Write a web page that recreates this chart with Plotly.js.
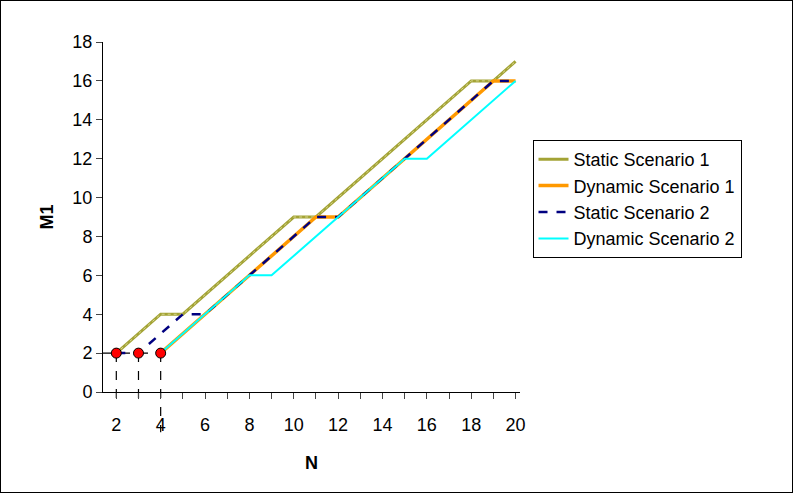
<!DOCTYPE html>
<html>
<head>
<script src="https://cdn.plot.ly/plotly-3.0.1.min.js"></script>
<style>body{margin:0} #wrap{width:793px;height:493px;box-sizing:border-box;border:1px solid #000;overflow:hidden}</style>
</head>
<body>
<div id="wrap"><div id="graph"></div></div>
<script>
//series data
const s1X = [2, 4, 5, 10, 11, 18, 19, 20]
const s1Y = [2, 4, 4, 9, 9, 16, 16, 17]
const d1X = [4, 8, 11, 12, 15, 19, 20]
const d1Y = [2, 6, 9, 9, 12, 16, 16]
const s2X = [2, 3, 5, 6, 11, 12, 19, 20]
const s2Y = [2, 2, 4, 4, 9, 9, 16, 16]
const d2X = [4, 8, 9, 15, 16, 20]
const d2Y = [2, 6, 6, 12, 12, 16]
//start points
const startX = [2, 3, 4]
const startY = [2, 2, 2]

const traces = [
  {x: s1X, y: s1Y, mode: 'lines', name: 'Static Scenario 1', line: {color: '#a3a335', width: 3}},
  {x: s1X, y: s1Y, mode: 'lines', showlegend: false, hoverinfo: 'skip', line: {color: '#d8d890', width: 1, dash: 'dot'}},
  {x: d1X, y: d1Y, mode: 'lines', name: 'Dynamic Scenario 1', line: {color: '#ff9900', width: 3.5}},
  {x: s2X, y: s2Y, mode: 'lines', name: 'Static Scenario 2', line: {color: '#000080', width: 2.5, dash: 'dash'}},
  {x: d2X, y: d2Y, mode: 'lines', name: 'Dynamic Scenario 2', line: {color: '#00ffff', width: 2}},
  {x: startX, y: startY, mode: 'markers', showlegend: false, cliponaxis: false,
   marker: {color: '#ff0000', size: 10, line: {color: '#000', width: 1}}}
]

//dashed guide lines from the start points
const shapes = [{type: 'line', xref: 'x', yref: 'y', x0: 1.4, x1: 4, y0: 2, y1: 2,
  line: {color: '#000', width: 1.2, dash: 'dash'}, layer: 'below'}]
startX.forEach((x, i) => {
  shapes.push({type: 'line', xref: 'x', yref: 'paper', x0: x, x1: x, y0: startY[i] / 18,
    y1: i === 2 ? -0.115 : -0.03, line: {color: '#000', width: 1.2, dash: 'dash'}, layer: 'below'})
})

const allTicks = []
for (let i = 2; i <= 20; i++) allTicks.push(i)

const layout = {
  width: 791, height: 491,
  margin: {l: 102, r: 272, t: 41, b: 100},
  font: {family: 'Liberation Sans, Arial', size: 18, color: '#000'},
  paper_bgcolor: '#fff', plot_bgcolor: '#fff',
  showlegend: true,
  legend: {x: 1.03, y: 0.72, yanchor: 'top', xanchor: 'left', bordercolor: '#000', borderwidth: 1,
    font: {size: 18}, tracegroupgap: 0},
  xaxis: {
    range: [1.4, 20.2], tickvals: allTicks,
    ticktext: allTicks.map(v => v % 2 === 0 ? String(v) : ''),
    ticks: 'outside', ticklen: 6, ticklabelstandoff: 10, showline: true, linecolor: '#000', linewidth: 1,
    showgrid: false, zeroline: false,
    title: {text: '<b>N</b>', font: {size: 18}, standoff: 22}
  },
  yaxis: {
    range: [0, 18], dtick: 2, ticks: 'outside', ticklen: 6,
    showline: true, linecolor: '#000', linewidth: 1, showgrid: false, zeroline: false,
    title: {text: '<b>M1</b>', font: {size: 18}, standoff: 14}
  },
  shapes: shapes
}

Plotly.newPlot('graph', traces, layout, {displayModeBar: false})
</script>
</body>
</html>
